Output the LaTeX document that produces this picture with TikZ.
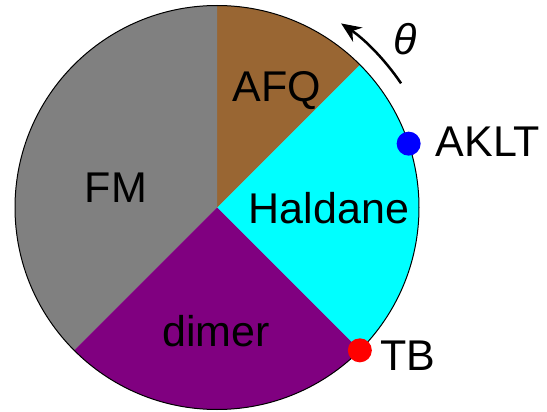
\documentclass[tikz,border=0pt]{standalone}
\usepackage{fontspec}
\setmainfont{Liberation Sans}
\usetikzlibrary{arrows.meta}
\definecolor{afqc}{RGB}{153,102,51}
\definecolor{halc}{RGB}{0,255,255}
\definecolor{fmc}{RGB}{128,128,128}
\definecolor{dimc}{RGB}{128,0,128}
\tikzset{
  lbl/.style={inner sep=0pt, anchor=base, font=\fontsize{43}{47}\selectfont},
  dot/.style={circle, inner sep=0pt, minimum size=24pt},
}
\begin{document}
\begin{tikzpicture}[x=1pt,y=1pt]
\useasboundingbox (0,0) rectangle (547,-412);
\coordinate (C) at (217,-207.5);
\def\R{202}
\fill[halc] (C) -- ([shift={(-45:\R)}]C) arc[start angle=-45, end angle=45, radius=\R] -- cycle;
\fill[afqc] (C) -- ([shift={(45:\R)}]C) arc[start angle=45, end angle=90, radius=\R] -- cycle;
\fill[fmc] (C) -- ([shift={(90:\R)}]C) arc[start angle=90, end angle=225, radius=\R] -- cycle;
\fill[dimc] (C) -- ([shift={(225:\R)}]C) arc[start angle=225, end angle=315, radius=\R] -- cycle;
\draw[line width=1pt] (C) circle[radius=\R];
\draw[line width=2.5pt, -{Stealth[length=20pt,width=17pt]}] ([shift={(34:222)}]C) arc[start angle=34, end angle=56, radius=222];
\node[lbl] (th) at (405,-55) {\itshape θ};
\node[dot, fill=blue] (aklt) at ([shift={(18.43:\R)}]C) {};
\node[dot, fill=red] (tb) at ([shift={(-45:\R)}]C) {};
\node[lbl] (afq) at (277,-102) {AFQ};
\node[lbl] (fm) at (116,-202) {FM};
\node[lbl] (hal) at (329,-223) {Haldane};
\node[lbl] (dim) at (216,-346) {dimer};
\node[lbl] (akltl) at (488,-157) {AKLT};
\node[lbl] (tbl) at (408,-370) {TB};
\end{tikzpicture}
\end{document}
